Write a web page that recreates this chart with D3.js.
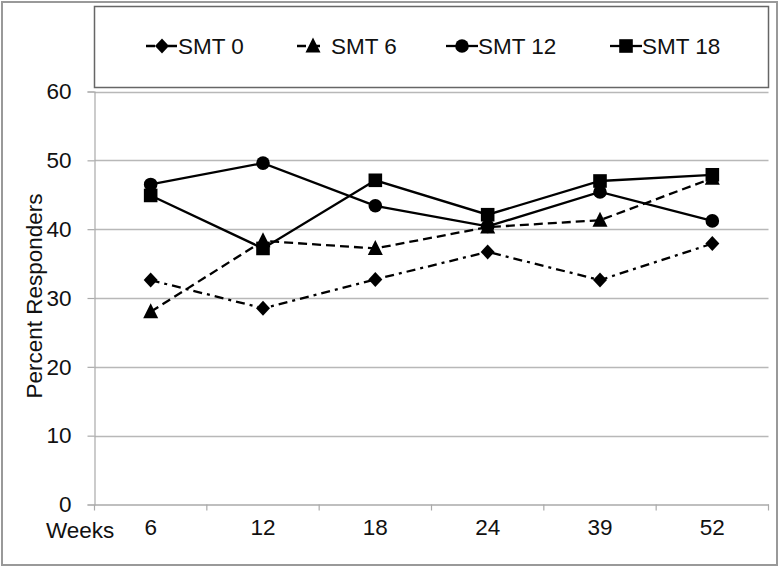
<!DOCTYPE html>
<html>
<head>
<meta charset="utf-8">
<script src="https://cdn.jsdelivr.net/npm/d3@7/dist/d3.min.js"></script>
<style>
  html, body { margin: 0; padding: 0; background: #fff; }
  svg { display: block; font-family: "Liberation Sans", Arial, sans-serif; }
</style>
</head>
<body>
<svg id="chart" width="784" height="568"></svg>
<script>
const categories = ["6", "12", "18", "24", "39", "52"];
const seriesNames = ["SMT 0", "SMT 6", "SMT 12", "SMT 18"];
const smt0 = [32.6, 28.5, 32.7, 36.7, 32.6, 37.9];
const smt6 = [28.0, 38.3, 37.2, 40.3, 41.3, 47.4];
const smt12 = [46.5, 49.6, 43.4, 40.4, 45.4, 41.2];
const smt18 = [44.9, 37.2, 47.1, 42.1, 47.0, 47.9];
const yTicks = [0, 10, 20, 30, 40, 50, 60];

const series = [
  { name: seriesNames[0], values: smt0, symbol: "diamond", dash: "9,5,3,5", legendLen: 32 },
  { name: seriesNames[1], values: smt6, symbol: "triangle", dash: "9,5", legendLen: 24 },
  { name: seriesNames[2], values: smt12, symbol: "circle", dash: null, legendLen: 32 },
  { name: seriesNames[3], values: smt18, symbol: "square", dash: null, legendLen: 32 }
];

const FS = 22.5;
const svg = d3.select("#chart");
const plotLeft = 94.5, plotRight = 768.5, plotTop = 91.5, plotBottom = 504.5;

// outer frame
svg.append("rect").attr("x", 2).attr("y", 2).attr("width", 775).attr("height", 563)
  .attr("fill", "#fff").attr("stroke", "#999").attr("stroke-width", 2);

const x = d3.scaleBand().domain(categories).range([plotLeft, plotRight]).padding(0);
const y = d3.scaleLinear().domain([0, 60]).range([plotBottom, plotTop]);

// gridlines
svg.append("g").selectAll("line").data(yTicks.filter(d => d > 0)).join("line")
  .attr("x1", plotLeft).attr("x2", plotRight)
  .attr("y1", d => Math.round(y(d)) + 0.5).attr("y2", d => Math.round(y(d)) + 0.5)
  .attr("stroke", "#b8b8b8").attr("stroke-width", 1.5);

// y axis
const yAxis = svg.append("g").attr("transform", `translate(${plotLeft},0)`)
  .call(d3.axisLeft(y).tickValues(yTicks).tickSize(7).tickPadding(16).tickFormat(d3.format("d")));
yAxis.select(".domain").attr("stroke", "#aaa").attr("stroke-width", 1.2);
yAxis.selectAll(".tick line").attr("stroke", "#aaa").attr("stroke-width", 1.2);
yAxis.selectAll("text").attr("font-size", FS).attr("fill", "#111")
  .attr("font-family", "Liberation Sans, Arial, sans-serif");

// x axis
const xAxis = svg.append("g").attr("transform", `translate(0,${plotBottom})`)
  .call(d3.axisBottom(x).tickSize(0).tickPadding(15));
xAxis.select(".domain").attr("stroke", "#aaa").attr("stroke-width", 1.5);
xAxis.selectAll("text").attr("font-size", FS).attr("fill", "#111")
  .attr("font-family", "Liberation Sans, Arial, sans-serif");
// boundary ticks
const bounds = categories.map(c => x(c)).concat([x(categories[categories.length - 1]) + x.bandwidth()]);
svg.append("g").selectAll("line").data(bounds).join("line")
  .attr("x1", d => d).attr("x2", d => d)
  .attr("y1", plotBottom).attr("y2", plotBottom + 6)
  .attr("stroke", "#aaa").attr("stroke-width", 1.2);

svg.append("text").attr("x", 46).attr("y", 538).attr("font-size", FS).attr("fill", "#111")
  .text("Weeks");

// y title
svg.append("text").attr("transform", "translate(42,296) rotate(-90)")
  .attr("text-anchor", "middle").attr("font-size", FS).attr("fill", "#111")
  .text("Percent Responders");

// symbols
function drawSymbol(g, type, cx, cy) {
  if (type === "circle") {
    g.append("circle").attr("cx", cx).attr("cy", cy).attr("r", 6.8).attr("fill", "#000");
  } else if (type === "square") {
    g.append("rect").attr("x", cx - 6.8).attr("y", cy - 6.8).attr("width", 13.6).attr("height", 13.6).attr("fill", "#000");
  } else if (type === "diamond") {
    g.append("path").attr("d", `M${cx},${cy - 7.5}L${cx + 7},${cy}L${cx},${cy + 7.5}L${cx - 7},${cy}Z`).attr("fill", "#000");
  } else if (type === "triangle") {
    g.append("path").attr("d", `M${cx},${cy - 8.5}L${cx + 7.5},${cy + 6.5}L${cx - 7.5},${cy + 6.5}Z`).attr("fill", "#000");
  }
}

const line = d3.line().x((d, i) => x(categories[i]) + x.bandwidth() / 2).y(d => y(d));

series.forEach(s => {
  const g = svg.append("g");
  g.append("path").datum(s.values).attr("d", line)
    .attr("fill", "none").attr("stroke", "#000").attr("stroke-width", 2.3)
    .attr("stroke-dasharray", s.dash);
  s.values.forEach((v, i) => drawSymbol(g, s.symbol, x(categories[i]) + x.bandwidth() / 2, y(v)));
});

// legend box
svg.append("rect").attr("x", 94.5).attr("y", 6.5).attr("width", 674).attr("height", 81)
  .attr("fill", "#fff").attr("stroke", "#666").attr("stroke-width", 1.5);

const legendX = [146, 297, 446, 610];
series.forEach((s, i) => {
  const g = svg.append("g").attr("transform", `translate(${legendX[i]},46)`);
  g.append("line").attr("x1", 0).attr("x2", s.legendLen).attr("y1", 0).attr("y2", 0)
    .attr("stroke", "#000").attr("stroke-width", 2.3).attr("stroke-dasharray", s.dash);
  drawSymbol(g, s.symbol, 16, 0);
  g.append("text").attr("x", i === 1 ? 34 : 32).attr("y", 8).attr("font-size", FS).attr("fill", "#111")
    .text(s.name);
});
</script>
</body>
</html>
